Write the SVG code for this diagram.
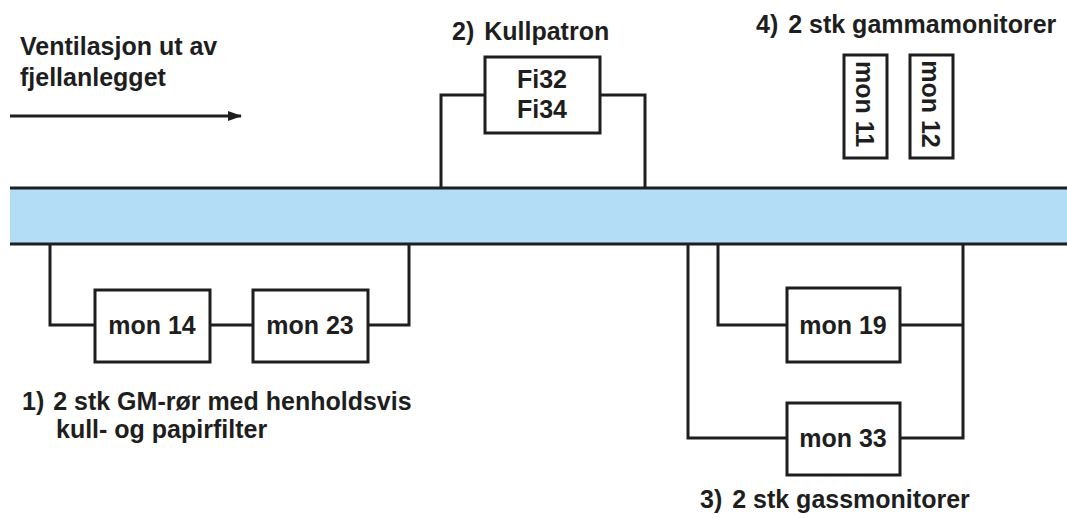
<svg xmlns="http://www.w3.org/2000/svg" width="1067" height="518" viewBox="0 0 1067 518">
<defs>
<style>
text{font-family:"Liberation Sans",Arial,sans-serif;font-weight:bold;font-size:25px;fill:#1e1e1e}
.c{text-anchor:middle}
.box{fill:#fff;stroke:#1e1e1e;stroke-width:3}
.ln{fill:none;stroke:#1e1e1e;stroke-width:3}
</style>
<marker id="ah" viewBox="0 0 14 10" refX="13" refY="5" markerWidth="14" markerHeight="10" orient="auto" markerUnits="userSpaceOnUse">
<path d="M0,0 L14,5 L0,10 z" fill="#1e1e1e"/>
</marker>
</defs>
<rect width="1067" height="518" fill="#fff"/>

<g id="pipe">
<rect x="10" y="188" width="1057" height="56" fill="#b3ddf7"/>
<line class="ln" x1="10" y1="188" x2="1067" y2="188"/>
<line class="ln" x1="10" y1="244" x2="1067" y2="244"/>
</g>

<g id="flow">
<text x="20" y="55">Ventilasjon ut av</text>
<text x="20" y="86">fjellanlegget</text>
<line class="ln" x1="10" y1="116" x2="241" y2="116" marker-end="url(#ah)"/>
</g>

<g id="connectors">
<polyline class="ln" points="485,95 441,95 441,188"/>
<polyline class="ln" points="600,95 645,95 645,188"/>
<polyline class="ln" points="50,244 50,325 95,325"/>
<line class="ln" x1="210" y1="325" x2="253" y2="325"/>
<polyline class="ln" points="368,325 409,325 409,244"/>
<polyline class="ln" points="718,244 718,325 787,325"/>
<polyline class="ln" points="688,244 688,438 787,438"/>
<polyline class="ln" points="963,244 963,438 900,438"/>
<line class="ln" x1="900" y1="325" x2="963" y2="325"/>
</g>

<g id="kullpatron">
<text x="452" y="40">2) <tspan dx="3">Kullpatron</tspan></text>
<rect class="box" x="485" y="57" width="115" height="76"/>
<text class="c" x="542" y="88">Fi32</text>
<text class="c" x="542" y="118">Fi34</text>
</g>

<g id="gamma">
<text x="756" y="33">4) <tspan dx="3">2 stk gammamonitorer</tspan></text>
<rect class="box" x="844" y="55" width="43" height="103"/>
<text class="c" transform="translate(865,104) rotate(90)" y="9">mon 11</text>
<rect class="box" x="910" y="55" width="43" height="103"/>
<text class="c" transform="translate(931,104) rotate(90)" y="9">mon 12</text>
</g>

<g id="mon14">
<rect class="box" x="95" y="290" width="115" height="72"/>
<text class="c" x="152" y="334">mon 14</text>
</g>
<g id="mon23">
<rect class="box" x="253" y="290" width="115" height="72"/>
<text class="c" x="310" y="334">mon 23</text>
</g>
<g id="label1">
<text x="22" y="410">1) <tspan dx="2">2 stk GM-rør med henholdsvis</tspan></text>
<text x="56" y="438">kull- og papirfilter</text>
</g>

<g id="mon19">
<rect class="box" x="787" y="288" width="113" height="74"/>
<text class="c" x="843" y="334">mon 19</text>
</g>
<g id="mon33">
<rect class="box" x="787" y="403" width="113" height="72"/>
<text class="c" x="843" y="447">mon 33</text>
</g>
<g id="label3">
<text x="700" y="508">3) <tspan dx="3">2 stk gassmonitorer</tspan></text>
</g>
</svg>
